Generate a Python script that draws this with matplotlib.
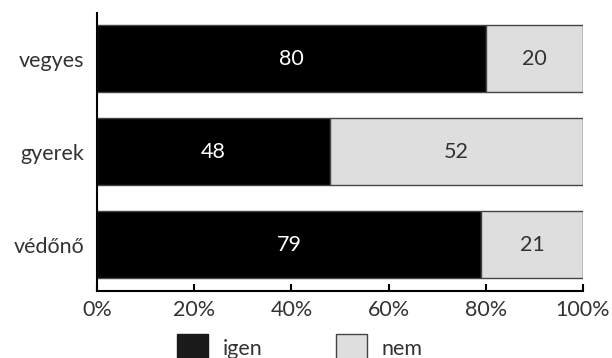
import matplotlib
matplotlib.use("Agg")
import matplotlib.pyplot as plt
from matplotlib.patches import Patch

plt.rcParams['font.family'] = ['Lato', 'DejaVu Sans']

categories = ['védőnő', 'gyerek', 'vegyes']
igen = [79, 48, 80]
nem = [21, 52, 20]
xticks = [0, 20, 40, 60, 80, 100]
xticklabels = ['0%', '20%', '40%', '60%', '80%', '100%']

FS = 15.5
TXT = '#333333'
fig = plt.figure(figsize=(6.12, 3.58), dpi=100)
ax = fig.add_axes([0.1585, 0.188, 0.7941, 0.7757])

y = list(range(len(categories)))
h = 0.72
ax.barh(y, igen, height=h, color='#000000', edgecolor='#444444', linewidth=1)
ax.barh(y, nem, left=igen, height=h, color='#dedede', edgecolor='#444444', linewidth=1)

for i in y:
    ax.text(igen[i] / 2, i, str(igen[i]), ha='center', va='center', color='white', fontsize=FS)
    ax.text(igen[i] + nem[i] / 2, i, str(nem[i]), ha='center', va='center', color=TXT, fontsize=FS)

ax.set_xlim(0, 100)
ax.set_ylim(-0.495, 2.49)
ax.set_yticks(y)
ax.set_yticklabels(categories, fontsize=FS, color=TXT)
ax.set_xticks(xticks)
ax.set_xticklabels(xticklabels, fontsize=FS, color=TXT)
ax.tick_params(axis='y', length=0, pad=9)
ax.tick_params(axis='x', direction='in', length=5, width=1.5, pad=6.5)
for s in ['top', 'right']:
    ax.spines[s].set_visible(False)
ax.spines['left'].set_linewidth(1.5)
ax.spines['bottom'].set_linewidth(1.5)

handles = [Patch(facecolor='#1a1a1a', edgecolor='#1a1a1a', label='igen'),
           Patch(facecolor='#dedede', edgecolor='#444444', label='nem')]
leg = fig.legend(handles=handles, loc='upper center', bbox_to_anchor=(0.49, 0.12), ncol=2,
                 frameon=False, fontsize=FS, handlelength=1.45, handleheight=1.5,
                 columnspacing=3.37, handletextpad=0.7)
for t in leg.get_texts():
    t.set_color(TXT)

fig.savefig('out.png', dpi=100)
